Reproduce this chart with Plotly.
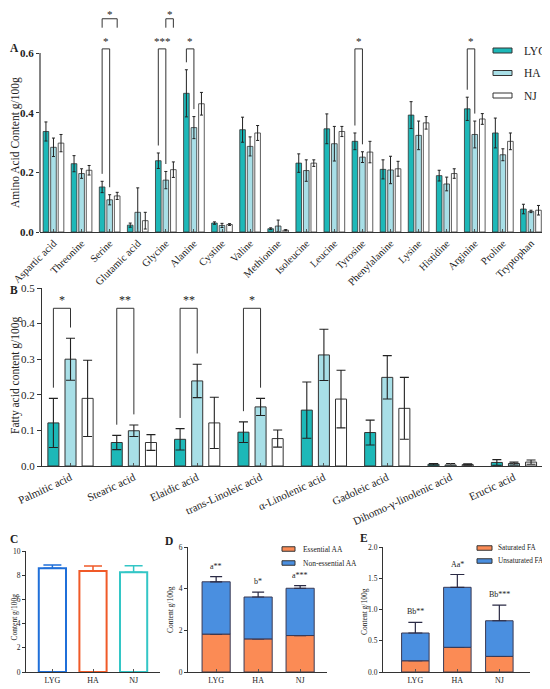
import plotly.graph_objects as go

# ---- data ----
groups = ["LYG", "HA", "NJ"]

amino_acids = ["Aspartic acid", "Threonine", "Serine", "Glutamic acid", "Glycine", "Alanine",
               "Cystine", "Valine", "Methionine", "Isoleucine", "Leucine", "Tyrosine",
               "Phenylalanine", "Lysine", "Histidine", "Arginine", "Proline", "Tryptophan"]
aa_lyg = [0.337, 0.229, 0.151, 0.023, 0.239, 0.465, 0.030, 0.343, 0.011, 0.231, 0.346, 0.304,
          0.210, 0.392, 0.189, 0.413, 0.332, 0.077]
aa_lyg_sd = [0.032, 0.027, 0.019, 0.007, 0.026, 0.079, 0.004, 0.042, 0.003, 0.031, 0.050, 0.028,
             0.032, 0.045, 0.018, 0.039, 0.050, 0.016]
aa_ha = [0.284, 0.196, 0.108, 0.066, 0.174, 0.350, 0.022, 0.287, 0.020, 0.206, 0.296, 0.251,
         0.208, 0.324, 0.161, 0.327, 0.259, 0.069]
aa_ha_sd = [0.031, 0.016, 0.017, 0.082, 0.029, 0.037, 0.007, 0.032, 0.020, 0.036, 0.058, 0.018,
            0.046, 0.048, 0.023, 0.045, 0.020, 0.004]
aa_nj = [0.298, 0.207, 0.121, 0.038, 0.209, 0.430, 0.025, 0.332, 0.006, 0.231, 0.337, 0.268,
         0.212, 0.366, 0.196, 0.379, 0.304, 0.073]
aa_nj_sd = [0.029, 0.016, 0.012, 0.028, 0.026, 0.038, 0.003, 0.025, 0.002, 0.011, 0.017, 0.036,
            0.025, 0.021, 0.016, 0.018, 0.028, 0.016]
# (category index, group a, group b, label, level)
aa_sig = [(2, 0, 1, "*", 0), (2, 0, 2, "*", 1), (4, 0, 1, "***", 0), (4, 1, 2, "*", 1),
          (5, 0, 1, "*", 0), (11, 0, 1, "*", 0), (15, 0, 1, "*", 0)]

fatty_acids = ["Palmitic acid", "Stearic acid", "Elaidic acid", "trans-Linoleic acid",
               "α-Linolenic acid", "Gadoleic acid", "Dihomo-γ-linolenic acid", "Erucic acid"]
fa_lyg = [0.121, 0.066, 0.075, 0.095, 0.157, 0.094, 0.005, 0.010]
fa_lyg_sd = [0.069, 0.020, 0.030, 0.029, 0.079, 0.035, 0.002, 0.008]
fa_ha = [0.300, 0.099, 0.239, 0.166, 0.312, 0.249, 0.003, 0.007]
fa_ha_sd = [0.059, 0.016, 0.047, 0.024, 0.072, 0.061, 0.004, 0.004]
fa_nj = [0.190, 0.066, 0.121, 0.077, 0.188, 0.162, 0.004, 0.011]
fa_nj_sd = [0.107, 0.022, 0.072, 0.024, 0.081, 0.087, 0.002, 0.006]
fa_sig = [(0, 0, 1, "*"), (1, 0, 1, "**"), (2, 0, 1, "**"), (3, 0, 1, "*")]

total_aa = [8.57, 8.35, 8.24]
total_aa_sd = [0.27, 0.41, 0.55]

aa_parts = ["Essential AA", "Non-essential AA"]
essential_aa = [1.82, 1.59, 1.75]
essential_aa_sd = [0.22, 0.22, 0.06]
nonessential_aa = [2.51, 2.01, 2.27]
nonessential_aa_sd = [0.25, 0.23, 0.13]
aa_letters = ["a**", "b*", "a***"]

fa_parts = ["Saturated FA", "Unsaturated FA"]
saturated_fa = [0.18, 0.395, 0.25]
saturated_fa_sd = [0.087, 0.075, 0.12]
unsaturated_fa = [0.444, 0.96, 0.57]
unsaturated_fa_sd = [0.17, 0.205, 0.25]
fa_letters = ["Bb**", "Aa*", "Bb***"]

# ---- styling ----
# the page body has an 8px margin, so the figure is drawn 8px in from the window corner
OFF = 8
W, H = 550 - OFF, 689 - OFF
FONT = "Liberation Serif, Times New Roman, serif"
INK = "#333333"
bar_colors = ["#1db8b8", "#a8dfe7", "#ffffff"]
c_colors = ["#1f6fd9", "#f05a28", "#33c6c6"]
orange, blue = "#fb8b55", "#4a8fe0"


def px(x):
    return (x - OFF) / W


def py(y):
    return 1 - (y - OFF) / H


fig = go.Figure()

# A: amino acids
for k, (g, vals, sds) in enumerate(zip(groups, [aa_lyg, aa_ha, aa_nj], [aa_lyg_sd, aa_ha_sd, aa_nj_sd])):
    fig.add_trace(go.Bar(
        x=list(range(len(amino_acids))), y=vals, name=g, showlegend=False,
        width=0.2, offset=(k - 1) * 0.268 - 0.1,
        marker=dict(color=bar_colors[k], line=dict(color=INK, width=0.8)),
        error_y=dict(type="data", array=sds, color="#222222", thickness=1, width=1.5),
        xaxis="x", yaxis="y"))

# B: fatty acids
for k, (g, vals, sds) in enumerate(zip(groups, [fa_lyg, fa_ha, fa_nj], [fa_lyg_sd, fa_ha_sd, fa_nj_sd])):
    fig.add_trace(go.Bar(
        x=list(range(len(fatty_acids))), y=vals, name=g, showlegend=False,
        width=0.174, offset=(k - 1) * 0.27 - 0.087,
        marker=dict(color=bar_colors[k], line=dict(color=INK, width=1)),
        error_y=dict(type="data", array=sds, color="#222222", thickness=1.1, width=4.5),
        xaxis="x2", yaxis="y2"))

# C: total amino acids
for k, g in enumerate(groups):
    fig.add_trace(go.Bar(
        x=[g], y=[total_aa[k]], width=0.67, showlegend=False,
        marker=dict(color="white", line=dict(color=c_colors[k], width=2)),
        error_y=dict(type="data", array=[total_aa_sd[k]], arrayminus=[0], symmetric=False,
                     color=c_colors[k], thickness=1.5, width=9),
        xaxis="x3", yaxis="y3"))

# D: essential / non-essential (upper part sits on the lower one)
fig.add_trace(go.Bar(
    x=groups, y=essential_aa, name=aa_parts[0], showlegend=False, width=0.67,
    marker=dict(color=orange, line=dict(color="#3a3a55", width=1)),
    error_y=dict(type="data", array=essential_aa_sd, arrayminus=[0, 0, 0], symmetric=False,
                 color="#2a2a44", thickness=1.2, width=6),
    xaxis="x4", yaxis="y4"))
fig.add_trace(go.Bar(
    x=groups, y=nonessential_aa, base=essential_aa, name=aa_parts[1], showlegend=False, width=0.67,
    marker=dict(color=blue, line=dict(color="#3a3a55", width=1)),
    error_y=dict(type="data", array=nonessential_aa_sd, arrayminus=[0, 0, 0], symmetric=False,
                 color="#2a2a44", thickness=1.2, width=6),
    xaxis="x4", yaxis="y4"))

# E: saturated / unsaturated
fig.add_trace(go.Bar(
    x=groups, y=saturated_fa, name=fa_parts[0], showlegend=False, width=0.655,
    marker=dict(color=orange, line=dict(color="#3a3a55", width=1)),
    error_y=dict(type="data", array=saturated_fa_sd, arrayminus=[0, 0, 0], symmetric=False,
                 color="#2a2a44", thickness=1.2, width=7),
    xaxis="x5", yaxis="y5"))
fig.add_trace(go.Bar(
    x=groups, y=unsaturated_fa, base=saturated_fa, name=fa_parts[1], showlegend=False, width=0.655,
    marker=dict(color=blue, line=dict(color="#3a3a55", width=1)),
    error_y=dict(type="data", array=unsaturated_fa_sd, arrayminus=[0, 0, 0], symmetric=False,
                 color="#2a2a44", thickness=1.2, width=7),
    xaxis="x5", yaxis="y5"))

shapes = []
annotations = []

# A y-axis line only up to 0.6
shapes.append(dict(type="line", xref="x domain", yref="y", x0=0, x1=0, y0=0, y1=0.6,
                   line=dict(color=INK, width=1.2)))

# significance brackets, A
aa_means = [aa_lyg, aa_ha, aa_nj]
aa_sds = [aa_lyg_sd, aa_ha_sd, aa_nj_sd]
for i, a, b, lab, lvl in aa_sig:
    xa = i + (a - 1) * 0.268
    xb = i + (b - 1) * 0.268
    if lvl == 0:
        top = 0.614
        ya = aa_means[a][i] + aa_sds[a][i] + 0.025
        yb = aa_means[b][i] + aa_sds[b][i] + 0.025
        star = dict(yanchor="middle", yshift=8)
    else:
        top = 0.715
        ya = yb = 0.685
        star = dict(yanchor="bottom", yshift=-3.5)
    shapes.append(dict(type="path", xref="x", yref="y",
                       path=f"M {xa},{ya} L {xa},{top} L {xb},{top} L {xb},{yb}",
                       line=dict(color=INK, width=1)))
    annotations.append(dict(xref="x", yref="y", x=(xa + xb) / 2, y=top, text=lab, showarrow=False,
                            font=dict(size=11, color="#222222"), **star))

# significance brackets, B
fa_means = [fa_lyg, fa_ha, fa_nj]
fa_sds = [fa_lyg_sd, fa_ha_sd, fa_nj_sd]
for i, a, b, lab in fa_sig:
    xa = i + (a - 1) * 0.27
    xb = i + (b - 1) * 0.27
    top = 0.443
    ya = fa_means[a][i] + fa_sds[a][i] + 0.03
    yb = fa_means[b][i] + fa_sds[b][i] + 0.03
    shapes.append(dict(type="path", xref="x2", yref="y2",
                       path=f"M {xa},{ya} L {xa},{top} L {xb},{top} L {xb},{yb}",
                       line=dict(color=INK, width=1)))
    annotations.append(dict(xref="x2", yref="y2", x=(xa + xb) / 2, y=top, text=lab, showarrow=False,
                            yanchor="middle", yshift=8, font=dict(size=12, color="#222222")))

# letters over stacked bars
for k, g in enumerate(groups):
    annotations.append(dict(xref="x4", yref="y4", x=g,
                            y=essential_aa[k] + nonessential_aa[k] + nonessential_aa_sd[k],
                            text=aa_letters[k], showarrow=False, yanchor="bottom", yshift=4,
                            font=dict(size=8)))
    annotations.append(dict(xref="x5", yref="y5", x=g,
                            y=saturated_fa[k] + unsaturated_fa[k] + unsaturated_fa_sd[k],
                            text=fa_letters[k], showarrow=False, yanchor="bottom", yshift=4,
                            font=dict(size=8)))

# legends: flat patches with labels
for names, colors, x0, x1, xt, y0, step, hgt, size in [
        (groups, bar_colors, 493, 512, 522, 50.5, 22.5, 5, 11.5),
        (aa_parts, [orange, blue], 282, 295, 301, 549, 14, 4.5, 7.5),
        (fa_parts, [orange, blue], 477, 492, 496, 548, 13, 4.5, 7.2)]:
    for k, (name, col) in enumerate(zip(names, colors)):
        yc = y0 + k * step
        shapes.append(dict(type="rect", xref="paper", yref="paper",
                           x0=px(x0), x1=px(x1), y0=py(yc + hgt / 2), y1=py(yc - hgt / 2),
                           fillcolor=col, line=dict(color=INK, width=1)))
        annotations.append(dict(xref="paper", yref="paper", x=px(xt), y=py(yc), text=name,
                                xanchor="left", yanchor="middle", showarrow=False,
                                font=dict(size=size)))

# panel letters
for letter, x, y in [("A", 14, 48), ("B", 14, 290), ("C", 14, 539), ("D", 169, 541), ("E", 364, 538)]:
    annotations.append(dict(xref="paper", yref="paper", x=px(x), y=py(y), text=f"<b>{letter}</b>",
                            xanchor="center", yanchor="middle", showarrow=False, font=dict(size=11.5)))

# axis titles
for txt, x, y, size in [("Amino Acid Content g/100g", 15, 143, 11.5),
                        ("Fatty acid content g/100g", 15, 376, 11.5),
                        ("Content g/100g", 13.5, 617, 7.5),
                        ("Content g/100g", 170, 610, 7.5),
                        ("Content g/100g", 364, 612, 7.5)]:
    annotations.append(dict(xref="paper", yref="paper", x=px(x), y=py(y), text=txt, textangle=-90,
                            xanchor="center", yanchor="middle", showarrow=False,
                            font=dict(size=size)))

common_x = dict(showline=True, linecolor=INK, linewidth=1.2, ticks="inside", ticklen=3,
                tickcolor="#555555", showgrid=False, zeroline=False)
common_y = dict(showline=True, linecolor=INK, linewidth=1.2, ticks="outside", ticklen=3,
                tickcolor=INK, showgrid=False, zeroline=False)

fig.update_layout(
    width=W, height=H, autosize=False, template="none", showlegend=False,
    margin=dict(l=0, r=0, t=0, b=0),
    paper_bgcolor="white", plot_bgcolor="white",
    font=dict(family=FONT, color="#222222", size=10),
    barmode="overlay",
    shapes=shapes, annotations=annotations,
    xaxis=dict(common_x, domain=[px(40), px(545)], range=[-0.48, 17.5], anchor="y",
               tickmode="array", tickvals=list(range(len(amino_acids))), ticktext=amino_acids,
               tickangle=-45, tickfont=dict(size=10.5)),
    yaxis=dict(common_y, domain=[py(232), py(11.3)], range=[0, 0.74], anchor="x", showline=False,
               tickvals=[0, 0.2, 0.4, 0.6], tickformat=".1f", ticklen=3,
               tickfont=dict(size=11, weight="bold")),
    xaxis2=dict(common_x, domain=[px(42), px(545)], range=[-0.45, 7.49], anchor="y2",
                tickmode="array", tickvals=list(range(len(fatty_acids))), ticktext=fatty_acids,
                tickangle=-25, tickfont=dict(size=11)),
    yaxis2=dict(common_y, domain=[py(466), py(288)], range=[0, 0.5], anchor="x2",
                dtick=0.1, tickformat=".1f", ticklen=4, tickfont=dict(size=11)),
    xaxis3=dict(common_x, domain=[px(26), px(160)], range=[-0.65, 2.65], anchor="y3",
                tickfont=dict(size=8)),
    yaxis3=dict(common_y, domain=[py(672), py(551)], range=[0, 10], dtick=2, anchor="x3",
                tickfont=dict(size=7.5)),
    xaxis4=dict(common_x, domain=[px(188), px(327)], range=[-0.67, 2.64], anchor="y4",
                tickfont=dict(size=8)),
    yaxis4=dict(common_y, domain=[py(672), py(547)], range=[0, 6], dtick=2, anchor="x4",
                tickfont=dict(size=7.5)),
    xaxis5=dict(common_x, domain=[px(383), px(530)], range=[-0.77, 2.73], anchor="y5",
                tickfont=dict(size=8)),
    yaxis5=dict(common_y, domain=[py(672), py(547)], range=[0, 2], dtick=0.5, tickformat=".1f",
                anchor="x5", tickfont=dict(size=7.5)),
)

fig.write_html("out.html")
